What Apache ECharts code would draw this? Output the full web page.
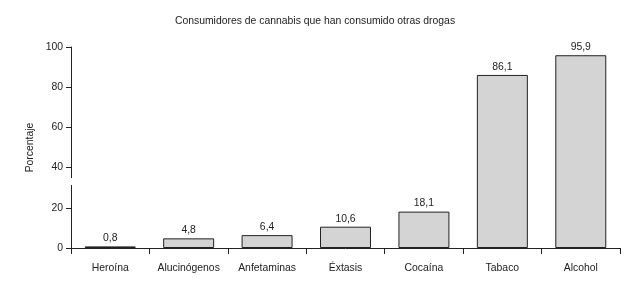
<!DOCTYPE html>
<html>
<head>
<meta charset="utf-8">
<script src="https://cdn.jsdelivr.net/npm/echarts@6/dist/echarts.min.js"></script>
<style>
  html, body { margin: 0; padding: 0; background: #fff; }
  #chart { width: 630px; height: 283px; }
</style>
</head>
<body>
<div id="chart"></div>
<script>
const categories = ["Heroína", "Alucinógenos", "Anfetaminas", "Éxtasis", "Cocaína", "Tabaco", "Alcohol"];
const values = [0.8, 4.8, 6.4, 10.6, 18.1, 86.1, 95.9];
const yTicks = [0, 20, 40, 60, 80, 100];

const chartDom = document.getElementById("chart");
const myChart = echarts.init(chartDom);
const font = "'Liberation Sans', Arial, sans-serif";
const fs = 10.4;

const option = {
  animation: false,
  title: {
    text: "Consumidores de cannabis que han consumido otras drogas",
    left: "center",
    top: 11,
    textStyle: { fontFamily: font, fontSize: fs, fontWeight: "normal", color: "#222" },
  },
  grid: { left: 71, right: 10, top: 47, bottom: 35 },
  xAxis: {
    type: "category",
    data: categories,
    boundaryGap: true,
    axisLine: { lineStyle: { color: "#222", width: 1 } },
    axisTick: { show: true, length: 6, inside: false, lineStyle: { color: "#222" } },
    axisLabel: { interval: 0, fontFamily: font, fontSize: fs, color: "#222", margin: 15 },
  },
  yAxis: {
    type: "value",
    min: yTicks[0],
    max: yTicks[yTicks.length - 1],
    interval: 20,
    name: "Porcentaje",
    nameLocation: "middle",
    nameGap: 36,
    nameTextStyle: { fontFamily: font, fontSize: fs, color: "#222" },
    axisLine: { show: true, lineStyle: { color: "#222", width: 1 } },
    axisTick: { show: true, length: 5, lineStyle: { color: "#222" } },
    axisLabel: { fontFamily: font, fontSize: fs, color: "#222", margin: 8 },
    splitLine: { show: false },
  },
  series: [
    {
      type: "bar",
      data: values,
      barWidth: "65%",
      itemStyle: { color: "#d4d4d4", borderColor: "#222", borderWidth: 1 },
      label: {
        show: true,
        position: "top",
        distance: 3,
        fontFamily: font,
        fontSize: fs,
        color: "#222",
        formatter: (p) => String(p.value).replace(".", ","),
      },
    },
  ],
  graphic: [
    {
      type: "rect",
      shape: { x: 68, y: 178, width: 6, height: 7 },
      style: { fill: "#fff" },
      z: 100,
    },
  ],
};

myChart.setOption(option);
</script>
</body>
</html>
